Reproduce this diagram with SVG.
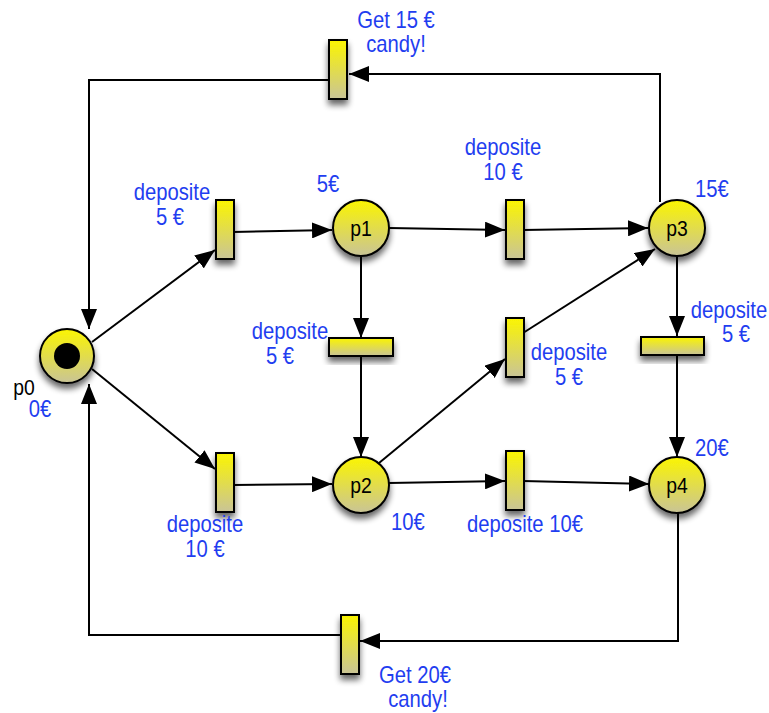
<svg xmlns="http://www.w3.org/2000/svg" width="769" height="713" viewBox="0 0 769 713">
<defs>
<linearGradient id="g" x1="0" y1="0" x2="0" y2="1">
<stop offset="0" stop-color="#fbf500"/>
<stop offset="1" stop-color="#c9c497"/>
</linearGradient>
<filter id="sh" x="-50%" y="-50%" width="200%" height="200%">
<feGaussianBlur in="SourceAlpha" stdDeviation="3"/>
<feOffset dx="0" dy="5" result="b"/>
<feComponentTransfer><feFuncA type="linear" slope="0.6"/></feComponentTransfer>
<feMerge><feMergeNode/><feMergeNode in="SourceGraphic"/></feMerge>
</filter>
<marker id="ar2" markerWidth="20" markerHeight="16" refX="20" refY="8" orient="auto" markerUnits="userSpaceOnUse" viewBox="0 0 20 16">
<path d="M0,0 L20,8 L0,16 Z" fill="#000"/>
</marker>
</defs>
<style>
.n{fill:url(#g);stroke:#000;stroke-width:2;filter:url(#sh)}
.c{fill:none;stroke:#000;stroke-width:2;marker-end:url(#ar2)}
.l{font-family:"Liberation Sans",Arial,sans-serif;font-size:23px;fill:#1f3ef0;text-anchor:middle}
.k{font-family:"Liberation Sans",Arial,sans-serif;font-size:22px;fill:#000;text-anchor:middle}
.l,.k{transform-box:fill-box;transform-origin:center;transform:scaleX(0.88)}
</style>
<g id="connectors">
<path class="c" d="M660,202 L660,74 L349,74"/>
<path class="c" d="M328,80 L89,80 L89,329"/>
<path class="c" d="M678,513 L678,641 L360,641"/>
<path class="c" d="M340,635 L89,635 L89,384"/>
<path class="c" d="M92,342 L215,250"/>
<path class="c" d="M92,369 L215,469"/>
<path class="c" d="M233,232 L332,230"/>
<path class="c" d="M389,228 L505,230"/>
<path class="c" d="M523,230 L648,228"/>
<path class="c" d="M361,257 L361,338"/>
<path class="c" d="M361,356 L361,457"/>
<path class="c" d="M379,463 L505,359"/>
<path class="c" d="M523,333 L655,249"/>
<path class="c" d="M677,257 L677,336"/>
<path class="c" d="M677,354 L677,457"/>
<path class="c" d="M233,485 L332,484"/>
<path class="c" d="M389,483 L505,481"/>
<path class="c" d="M523,481 L649,484"/>
</g>
<g id="p0"><circle class="n" cx="67" cy="356" r="27"/><circle cx="67" cy="356" r="13" fill="#000"/><text class="k" x="24" y="395">p0</text><text class="l" x="40" y="417">0€</text></g>
<g id="p1"><circle class="n" cx="361" cy="228" r="28"/><text class="k" x="361" y="236">p1</text><text class="l" x="328" y="192">5€</text></g>
<g id="p2"><circle class="n" cx="361" cy="485" r="28"/><text class="k" x="361" y="493">p2</text><text class="l" x="408" y="530">10€</text></g>
<g id="p3"><circle class="n" cx="677" cy="228" r="28"/><text class="k" x="677" y="236">p3</text><text class="l" x="712" y="197">15€</text></g>
<g id="p4"><circle class="n" cx="677" cy="485" r="28"/><text class="k" x="677" y="493">p4</text><text class="l" x="712" y="456">20€</text></g>
<g id="t_get15"><rect class="n" x="329" y="40" width="18" height="59"/><text class="l" x="396" y="28">Get 15 €</text><text class="l" x="396" y="52">candy!</text></g>
<g id="t_dep5a"><rect class="n" x="216" y="200" width="18" height="59"/><text class="l" x="172" y="200">deposite</text><text class="l" x="170" y="225">5 €</text></g>
<g id="t_dep10a"><rect class="n" x="506" y="200" width="18" height="59"/><text class="l" x="503" y="155">deposite</text><text class="l" x="503" y="180">10 €</text></g>
<g id="t_dep5b"><rect class="n" x="329" y="338" width="64" height="18"/><text class="l" x="290" y="339">deposite</text><text class="l" x="280" y="364">5 €</text></g>
<g id="t_dep5c"><rect class="n" x="506" y="318" width="18" height="59"/><text class="l" x="569" y="360">deposite</text><text class="l" x="569" y="385">5 €</text></g>
<g id="t_dep5d"><rect class="n" x="641" y="337" width="63" height="18"/><text class="l" x="729" y="318">deposite</text><text class="l" x="736" y="342">5 €</text></g>
<g id="t_dep10b"><rect class="n" x="216" y="453" width="18" height="59"/><text class="l" x="205" y="532">deposite</text><text class="l" x="205" y="557">10 €</text></g>
<g id="t_dep10c"><rect class="n" x="506" y="451" width="18" height="59"/><text class="l" x="525" y="532">deposite 10€</text></g>
<g id="t_get20"><rect class="n" x="341" y="615" width="18" height="59"/><text class="l" x="415" y="683">Get 20€</text><text class="l" x="418" y="707">candy!</text></g>
</svg>
